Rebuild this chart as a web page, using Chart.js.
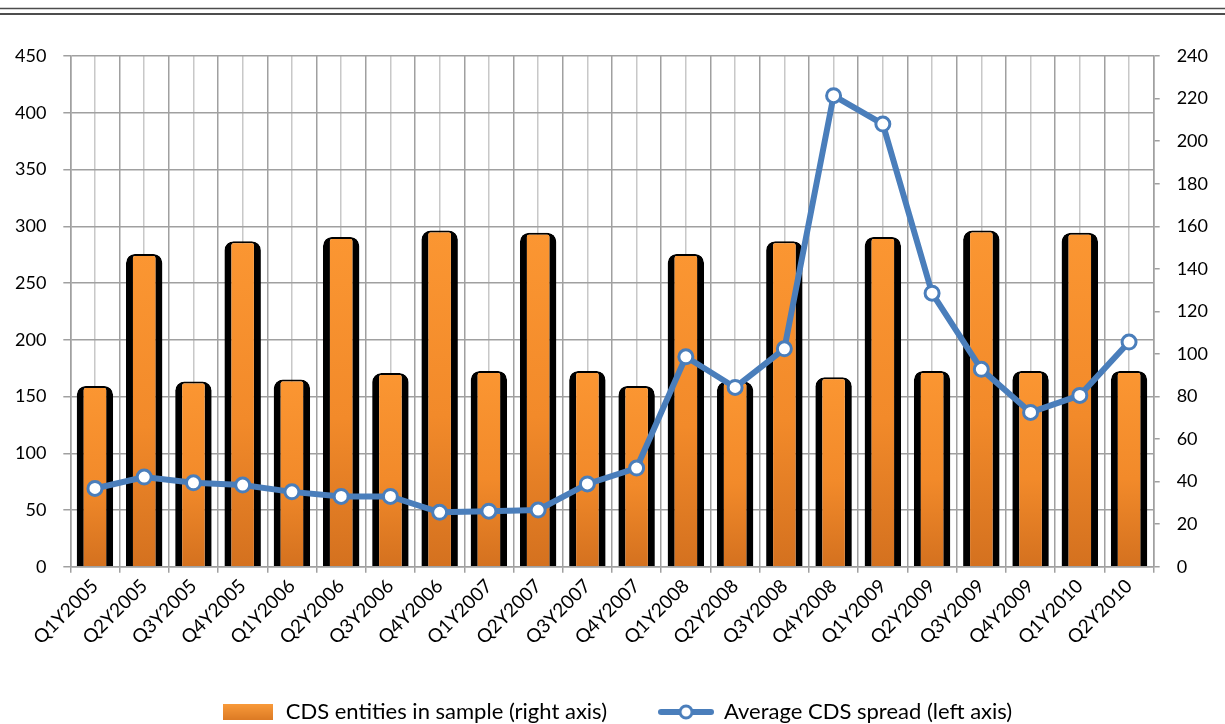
<!DOCTYPE html>
<html>
<head>
<meta charset="utf-8">
<script src="https://cdn.jsdelivr.net/npm/chart.js@4"></script>
<style>
  html, body { margin: 0; padding: 0; background: #fff; }
  #wrap { width: 1225px; height: 724px; }
</style>
</head>
<body>
<div id="wrap"><canvas id="grafico" width="1225" height="724"></canvas></div>
<script>
// Datos
const trimestres = ['Q1Y2005', 'Q2Y2005', 'Q3Y2005', 'Q4Y2005', 'Q1Y2006', 'Q2Y2006',
    'Q3Y2006', 'Q4Y2006', 'Q1Y2007', 'Q2Y2007', 'Q3Y2007', 'Q4Y2007', 'Q1Y2008',
    'Q2Y2008', 'Q3Y2008', 'Q4Y2008', 'Q1Y2009', 'Q2Y2009', 'Q3Y2009', 'Q4Y2009',
    'Q1Y2010', 'Q2Y2010'];
const entidadesCDS = [85, 147, 87, 153, 88, 155, 91, 158, 92, 157, 92, 85,
    147, 87, 153, 89, 155, 92, 158, 92, 157, 92];
const spreadMedio = [69, 79, 74, 72, 66, 62, 62, 48, 49, 50, 73, 87,
    185, 158, 192, 415, 390, 241, 174, 136, 151, 198];
const ticksIzq = { min: 0, max: 450, paso: 50 };
const ticksDer = { min: 0, max: 240, paso: 20 };
const etiquetaBarras = 'CDS entities in sample (right axis)';
const etiquetaLinea = 'Average CDS spread (left axis)';

const AZUL = '#4a7ebb';
const GRIS = '#a0a0a0';
const GRIS_CLARO = '#c8c8c8';
const FUENTE = 'Lato';

// Degradado por barra (claro arriba, oscuro abajo)
function colorBarra(c) {
    const chart = c.chart;
    const area = chart.chartArea;
    if (!area || c.raw === undefined) return '#f7942f';
    const yTop = chart.scales.y1.getPixelForValue(c.raw);
    const g = chart.ctx.createLinearGradient(0, yTop, 0, area.bottom);
    g.addColorStop(0, '#fb9632');
    g.addColorStop(0.55, '#f28a2a');
    g.addColorStop(1, '#d4711f');
    return g;
}

// Iconos de leyenda
function iconoBarra() {
    const c = document.createElement('canvas');
    c.width = 50; c.height = 16;
    const x = c.getContext('2d');
    const g = x.createLinearGradient(0, 0, 0, 16);
    g.addColorStop(0, '#f99a3a');
    g.addColorStop(1, '#dc7a24');
    x.fillStyle = g;
    x.fillRect(0, 0, 50, 16);
    return c;
}
function iconoLinea() {
    const c = document.createElement('canvas');
    c.width = 56; c.height = 18;
    const x = c.getContext('2d');
    x.strokeStyle = AZUL;
    x.lineWidth = 6;
    x.lineCap = 'round';
    x.beginPath(); x.moveTo(3, 9); x.lineTo(53, 9); x.stroke();
    x.beginPath(); x.arc(28, 9, 6, 0, Math.PI * 2);
    x.fillStyle = '#fff'; x.fill();
    x.lineWidth = 3; x.stroke();
    return c;
}

// Doble línea superior y pequeño ajuste de la leyenda
const dobleLinea = {
    id: 'dobleLinea',
    afterLayout(chart) {
        chart.legend.left += 5;
        chart.legend.right += 5;
    },
    beforeDraw(chart) {
        const ctx = chart.ctx;
        ctx.save();
        ctx.fillStyle = '#ffffff';
        ctx.fillRect(0, 0, chart.width, chart.height);
        ctx.strokeStyle = '#4d4d4d';
        ctx.lineWidth = 1.5;
        ctx.beginPath(); ctx.moveTo(0, 8.5); ctx.lineTo(chart.width, 8.5); ctx.stroke();
        ctx.lineWidth = 2;
        ctx.beginPath(); ctx.moveTo(0, 14); ctx.lineTo(chart.width, 14); ctx.stroke();
        ctx.restore();
    }
};

const iconos = [iconoBarra(), iconoLinea()];

new Chart(document.getElementById('grafico'), {
    data: {
        labels: trimestres,
        datasets: [{
            type: 'bar',
            label: etiquetaBarras,
            data: entidadesCDS,
            yAxisID: 'y1',
            order: 2,
            backgroundColor: colorBarra,
            borderColor: '#000000',
            borderWidth: { left: 7, right: 7, top: 2, bottom: 0 },
            borderRadius: { topLeft: 9, topRight: 9, bottomLeft: 0, bottomRight: 0 },
            borderSkipped: false,
            barPercentage: 0.74,
            categoryPercentage: 1.0
        }, {
            type: 'line',
            label: etiquetaLinea,
            data: spreadMedio,
            yAxisID: 'y',
            order: 1,
            borderColor: AZUL,
            borderWidth: 6,
            tension: 0,
            pointRadius: 7,
            pointBorderWidth: 3,
            pointBackgroundColor: '#ffffff',
            pointBorderColor: AZUL
        }]
    },
    options: {
        responsive: false,
        animation: false,
        layout: { padding: { top: 56, left: -2, right: 0, bottom: -9 } },
        scales: {
            x: {
                type: 'category',
                offset: true,
                grid: { offset: true, color: GRIS, lineWidth: 1.5, tickLength: 6, tickColor: GRIS },
                border: { color: GRIS, width: 1.5 },
                ticks: {
                    minRotation: 45, maxRotation: 45, padding: 2,
                    color: '#000', font: { family: FUENTE, size: 19 }
                },
                afterFit(s) { s.height -= 2; }
            },
            xc: {
                type: 'category',
                position: 'bottom',
                offset: true,
                grid: { offset: false, color: GRIS_CLARO, lineWidth: 1.5, drawTicks: false },
                border: { display: false },
                ticks: { display: false }
            },
            y: {
                position: 'left',
                min: ticksIzq.min, max: ticksIzq.max,
                ticks: {
                    stepSize: ticksIzq.paso, padding: 17,
                    color: '#000', font: { family: FUENTE, size: 18 }
                },
                grid: { color: GRIS, lineWidth: 1.5, tickLength: 7 },
                border: { color: GRIS, width: 1.5 }
            },
            y1: {
                position: 'right',
                min: ticksDer.min, max: ticksDer.max,
                ticks: {
                    stepSize: ticksDer.paso, padding: 17,
                    color: '#000', font: { family: FUENTE, size: 18 }
                },
                grid: { drawOnChartArea: false, color: GRIS, lineWidth: 1.5, tickLength: 6 },
                border: { color: GRIS, width: 1.5 }
            }
        },
        plugins: {
            tooltip: { enabled: false },
            legend: {
                position: 'bottom',
                labels: {
                    usePointStyle: true,
                    pointStyleWidth: 54,
                    boxHeight: 16,
                    padding: 52,
                    color: '#000',
                    font: { family: FUENTE, size: 22 },
                    generateLabels(chart) {
                        return chart.data.datasets.map((ds, i) => ({
                            text: ds.label,
                            pointStyle: iconos[i],
                            fillStyle: 'transparent',
                            strokeStyle: 'transparent',
                            lineWidth: 0,
                            hidden: false,
                            datasetIndex: i,
                            fontColor: '#000'
                        }));
                    }
                }
            }
        }
    },
    plugins: [dobleLinea]
});
</script>
</body>
</html>
